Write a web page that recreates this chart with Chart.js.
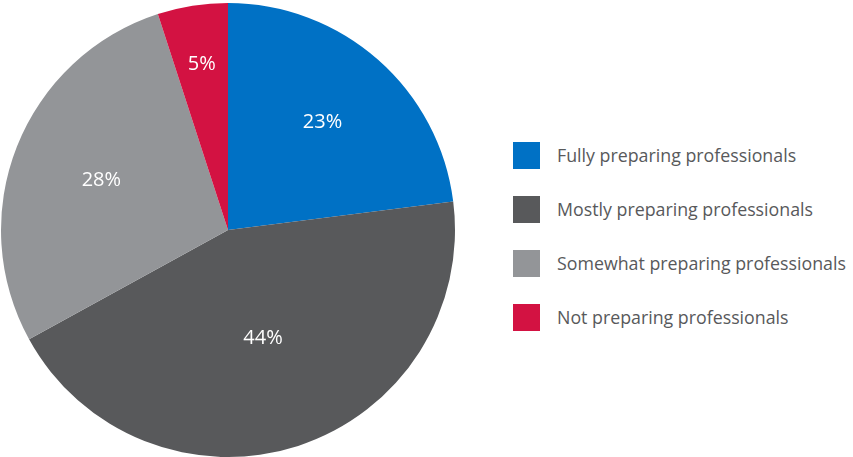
<!DOCTYPE html>
<html>
<head>
<meta charset="utf-8">
<script src="https://cdn.jsdelivr.net/npm/chart.js@4"></script>
<style>
  body { margin: 0; background: #fff; font-family: "Open Sans", sans-serif; }
  #wrap { position: relative; width: 853px; height: 457px; }
  #pieBox { position: absolute; left: 0; top: 0; width: 456px; height: 457px; }
  #legend { position: absolute; left: 513px; top: 142px; }
  .item { display: flex; align-items: center; height: 27px; margin-bottom: 27px; }
  .box { width: 27px; height: 27px; margin-right: 17px; flex: none; }
  .txt { font-size: 17.8px; color: #58595b; white-space: nowrap; line-height: 27px; }
</style>
</head>
<body>
<div id="wrap">
  <div id="pieBox"><canvas id="pieChart"></canvas></div>
  <div id="legend"></div>
</div>
<script>
const categories = ['Fully preparing professionals', 'Mostly preparing professionals', 'Somewhat preparing professionals', 'Not preparing professionals'];
const shares = [23, 44, 28, 5];
const sliceColors = ['#0071c5', '#58595b', '#939598', '#d31242'];

// label distance from centre, as a share of the radius
const labelRadius = [0.63, 0.50, 0.60, 0.74];

// Build the legend from the same arrays
const legendEl = document.getElementById('legend');
categories.forEach((name, i) => {
    const row = document.createElement('div');
    row.className = 'item';
    row.innerHTML = `<div class="box" style="background:${sliceColors[i]}"></div><div class="txt">${name}</div>`;
    legendEl.appendChild(row);
});

// Draw the percentage text inside each slice
const sliceLabels = {
    id: 'sliceLabels',
    afterDatasetsDraw(chart) {
        const ctx = chart.ctx;
        const meta = chart.getDatasetMeta(0);
        ctx.save();
        ctx.fillStyle = '#ffffff';
        ctx.font = '20px "Open Sans", sans-serif';
        ctx.textAlign = 'center';
        ctx.textBaseline = 'middle';
        meta.data.forEach((arc, i) => {
            const p = arc.getProps(['x', 'y', 'startAngle', 'endAngle', 'outerRadius'], true);
            const mid = (p.startAngle + p.endAngle) / 2;
            const r = p.outerRadius * labelRadius[i];
            ctx.fillText(shares[i] + '%', p.x + Math.cos(mid) * r, p.y + Math.sin(mid) * r);
        });
        ctx.restore();
    }
};

const pieCtx = document.getElementById('pieChart').getContext('2d');
const pieChart = new Chart(pieCtx, {
    type: 'pie',
    data: {
        labels: categories,
        datasets: [{
            data: shares,
            backgroundColor: sliceColors,
            borderWidth: 0
        }]
    },
    options: {
        responsive: true,
        maintainAspectRatio: false,
        animation: false,
        layout: { padding: { top: 3 } },
        plugins: {
            legend: { display: false },
            tooltip: { enabled: false }
        }
    },
    plugins: [sliceLabels]
});
</script>
</body>
</html>
